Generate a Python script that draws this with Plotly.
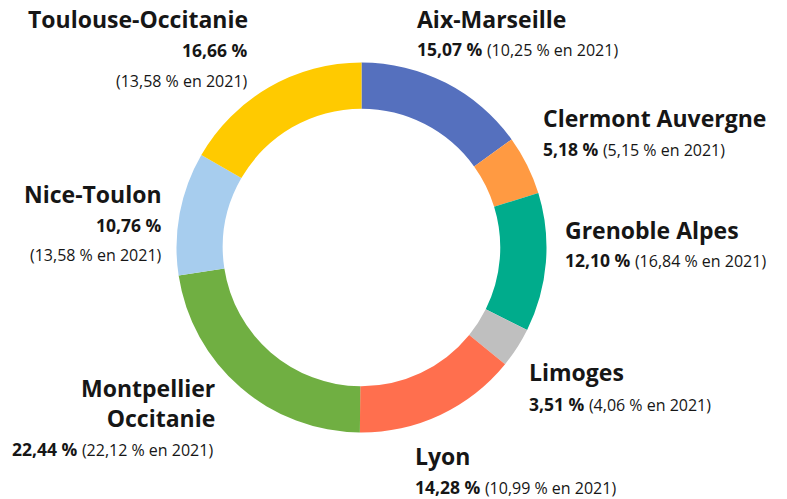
import plotly.graph_objects as go

# ---- data ----
universities = ["Aix-Marseille", "Clermont Auvergne", "Grenoble Alpes", "Limoges",
                "Lyon", "Montpellier<br>Occitanie", "Nice-Toulon", "Toulouse-Occitanie"]
share_2023 = [15.07, 5.18, 12.10, 3.51, 14.28, 22.44, 10.76, 16.66]
share_2021 = [10.25, 5.15, 16.84, 4.06, 10.99, 22.12, 13.58, 13.58]
colors = ["#5570BE", "#FF9A42", "#00AC8C", "#BFBFBF", "#FF6F4E", "#70AF42", "#A7CDEE", "#FFCA00"]

W, H = 787, 499
FONT = "Open Sans, sans-serif"


def fr(v):
    return f"{v:.2f}".replace(".", ",") + " %"


def px(x):
    return x / W


def py(y):
    return 1 - y / H


fig = go.Figure(go.Pie(
    labels=[u.replace("<br>", " ") for u in universities],
    values=share_2023,
    sort=False,
    direction="clockwise",
    rotation=0,
    hole=0.75,
    marker=dict(colors=colors, line=dict(width=0)),
    textinfo="none",
    hoverinfo="label+value",
    showlegend=False,
    domain=dict(x=[px(176.5), px(546.5)], y=[py(432.5), py(62.5)]),
))

TITLE = 23
PCT = 17.5
PAR = 16


def ann(x, y, text, size, anchor, bold=False):
    t = f"<b>{text}</b>" if bold else text
    fig.add_annotation(x=px(x), y=py(y), xref="paper", yref="paper", text=t,
                       showarrow=False, xanchor=anchor, yanchor="middle",
                       align=anchor, font=dict(family=FONT, size=size, color="#161616"))


def combo(i):
    return (f"<b>{fr(share_2023[i])}</b> "
            f"<span style='font-size:{PAR}px'>({fr(share_2021[i])} en 2021)</span>")


# Aix-Marseille
ann(415, 19, universities[0], TITLE, "left", True)
ann(415, 49, combo(0), PCT, "left")
# Clermont Auvergne
ann(541, 118, universities[1], TITLE, "left", True)
ann(541, 149, combo(1), PCT, "left")
# Grenoble Alpes
ann(563, 230, universities[2], TITLE, "left", True)
ann(563, 260, combo(2), PCT, "left")
# Limoges
ann(527, 372, universities[3], TITLE, "left", True)
ann(527, 404, combo(3), PCT, "left")
# Lyon
ann(413, 456, universities[4], TITLE, "left", True)
ann(413, 487, combo(4), PCT, "left")
# Montpellier Occitanie (two lines)
ann(217, 403, universities[5], TITLE, "right", True)
ann(10, 449, combo(5), PCT, "left")
# Nice-Toulon
ann(164, 194, universities[6], TITLE, "right", True)
ann(164, 225, fr(share_2023[6]), PCT, "right", True)
ann(164, 255, f"({fr(share_2021[6])} en 2021)", PAR, "right")
# Toulouse-Occitanie
ann(250, 19, universities[7], TITLE, "right", True)
ann(250, 50, fr(share_2023[7]), PCT, "right", True)
ann(250, 81, f"({fr(share_2021[7])} en 2021)", PAR, "right")

fig.update_layout(
    width=W, height=H,
    margin=dict(l=0, r=0, t=0, b=0),
    paper_bgcolor="white",
    plot_bgcolor="white",
)

fig.write_html("out.html", config={"displayModeBar": False},
               post_script="document.body.style.margin='0';")
